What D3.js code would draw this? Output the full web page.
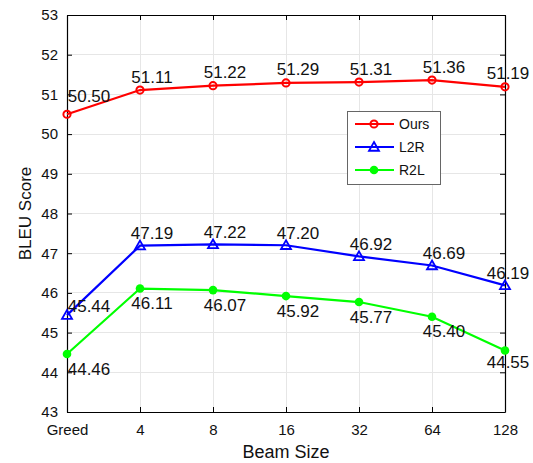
<!DOCTYPE html>
<html>
<head>
<meta charset="utf-8">
<script src="https://cdn.jsdelivr.net/npm/d3@7"></script>
<style>
  html, body { margin: 0; padding: 0; background: #fff; }
  svg { display: block; font-family: "Liberation Sans", Arial, Helvetica, sans-serif; }
</style>
</head>
<body>
<svg id="chart" width="533" height="463"></svg>
<script>
// ---- data ----
const categories = ["Greed", "4", "8", "16", "32", "64", "128"];
const oursValues = [50.50, 51.11, 51.22, 51.29, 51.31, 51.36, 51.19];
const l2rValues  = [45.44, 47.19, 47.22, 47.20, 46.92, 46.69, 46.19];
const r2lValues  = [44.46, 46.11, 46.07, 45.92, 45.77, 45.40, 44.55];
const yTickValues = [43, 44, 45, 46, 47, 48, 49, 50, 51, 52, 53];
const seriesNames = ["Ours", "L2R", "R2L"];

// ---- layout / style ----
const W = 533, H = 463;
const plot = { left: 67, right: 505, top: 15, bottom: 412 };
const colors = { Ours: "#ff0000", L2R: "#0000ff", R2L: "#00ff00" };
// label offset (in px) relative to point: first, middle, last dx; dy per series
const labelDx = (i, n) => i === 0 ? 22 : (i === n - 1 ? 3 : 12);
const labelDy = {
  Ours: i => i === 0 ? -18 : -13,
  L2R:  i => i === 0 ? -9 : -12,
  R2L:  (i, n) => i === n - 1 ? 12 : 15
};

const svg = d3.select("#chart");

const x = d3.scalePoint().domain(categories).range([plot.left, plot.right]);
const y = d3.scaleLinear().domain([43, 53]).range([plot.bottom, plot.top]);

// grid
const grid = svg.append("g");
grid.selectAll("line.gx").data(categories).join("line")
  .attr("x1", d => x(d)).attr("x2", d => x(d))
  .attr("y1", plot.top).attr("y2", plot.bottom)
  .attr("stroke", "#e6e6e6").attr("stroke-width", 1).attr("shape-rendering", "crispEdges");
grid.selectAll("line.gy").data(yTickValues).join("line")
  .attr("x1", plot.left).attr("x2", plot.right)
  .attr("y1", d => y(d)).attr("y2", d => y(d))
  .attr("stroke", "#e6e6e6").attr("stroke-width", 1).attr("shape-rendering", "crispEdges");

// axes
const tickLen = 5;
const xAxisB = d3.axisBottom(x).tickSizeInner(-tickLen).tickSizeOuter(0).tickPadding(12);
const xAxisT = d3.axisTop(x).tickSizeInner(-tickLen).tickSizeOuter(0).tickFormat("");
const yAxisL = d3.axisLeft(y).tickValues(yTickValues).tickSizeInner(-tickLen).tickSizeOuter(0).tickPadding(9).tickFormat(d3.format("d"));
const yAxisR = d3.axisRight(y).tickValues(yTickValues).tickSizeInner(-tickLen).tickSizeOuter(0).tickFormat("");

function styleAxis(g) {
  g.selectAll("path").attr("stroke", "#000").attr("stroke-width", 1.2);
  g.selectAll("line").attr("stroke", "#000").attr("stroke-width", 1);
  g.selectAll("text").attr("fill", "#111").style("font-size", "15px")
    .style("font-family", "'Liberation Sans', Arial, sans-serif");
}
svg.append("g").attr("transform", `translate(0,${plot.bottom})`).call(xAxisB).call(styleAxis);
svg.append("g").attr("transform", `translate(0,${plot.top})`).call(xAxisT).call(styleAxis);
svg.append("g").attr("transform", `translate(${plot.left},0)`).call(yAxisL).call(styleAxis);
svg.append("g").attr("transform", `translate(${plot.right},0)`).call(yAxisR).call(styleAxis);

// axis titles
svg.append("text").attr("x", (plot.left + plot.right) / 2).attr("y", 458)
  .attr("text-anchor", "middle").style("font-size", "18px").attr("fill", "#111")
  .text("Beam Size");
svg.append("text").attr("transform", `translate(31,${(plot.top + plot.bottom) / 2}) rotate(-90)`)
  .attr("text-anchor", "middle").style("font-size", "17px").attr("fill", "#111")
  .text("BLEU Score");

// series
const seriesData = [
  { name: "Ours", values: oursValues },
  { name: "L2R", values: l2rValues },
  { name: "R2L", values: r2lValues }
];
const line = d3.line().x((d, i) => x(categories[i])).y(d => y(d));

function drawMarker(g, name, cx, cy) {
  const c = colors[name];
  if (name === "Ours") {
    g.append("circle").attr("cx", cx).attr("cy", cy).attr("r", 3.6)
      .attr("fill", "none").attr("stroke", c).attr("stroke-width", 2);
  } else if (name === "L2R") {
    const s = 5;
    g.append("path")
      .attr("d", `M${cx},${cy - s * 1.0}L${cx + s},${cy + s * 0.75}L${cx - s},${cy + s * 0.75}Z`)
      .attr("fill", "none").attr("stroke", c).attr("stroke-width", 1.8);
  } else {
    g.append("circle").attr("cx", cx).attr("cy", cy).attr("r", 4.3).attr("fill", c);
  }
}

seriesData.forEach(s => {
  const g = svg.append("g");
  g.append("path").datum(s.values).attr("d", line)
    .attr("fill", "none").attr("stroke", colors[s.name]).attr("stroke-width", 2.2);
  s.values.forEach((v, i) => drawMarker(g, s.name, x(categories[i]), y(v)));
  const n = s.values.length;
  g.selectAll("text").data(s.values).join("text")
    .attr("x", (d, i) => x(categories[i]) + labelDx(i, n))
    .attr("y", (d, i) => y(d) + labelDy[s.name](i, n))
    .attr("text-anchor", "middle").attr("dominant-baseline", "central")
    .style("font-size", "17px").attr("fill", "#111")
    .text(d => d.toFixed(2));
});

// legend
const leg = svg.append("g");
leg.append("rect").attr("x", 347.5).attr("y", 111.5).attr("width", 93).attr("height", 73)
  .attr("fill", "#fff").attr("stroke", "#666").attr("stroke-width", 1);
seriesNames.forEach((name, i) => {
  const ly = 124 + i * 23;
  leg.append("line").attr("x1", 355).attr("x2", 394).attr("y1", ly).attr("y2", ly)
    .attr("stroke", colors[name]).attr("stroke-width", 2.2);
  drawMarker(leg, name, 374, ly);
  leg.append("text").attr("x", 399).attr("y", ly).attr("dominant-baseline", "central")
    .style("font-size", "14px").attr("fill", "#111").text(name);
});
</script>
</body>
</html>
